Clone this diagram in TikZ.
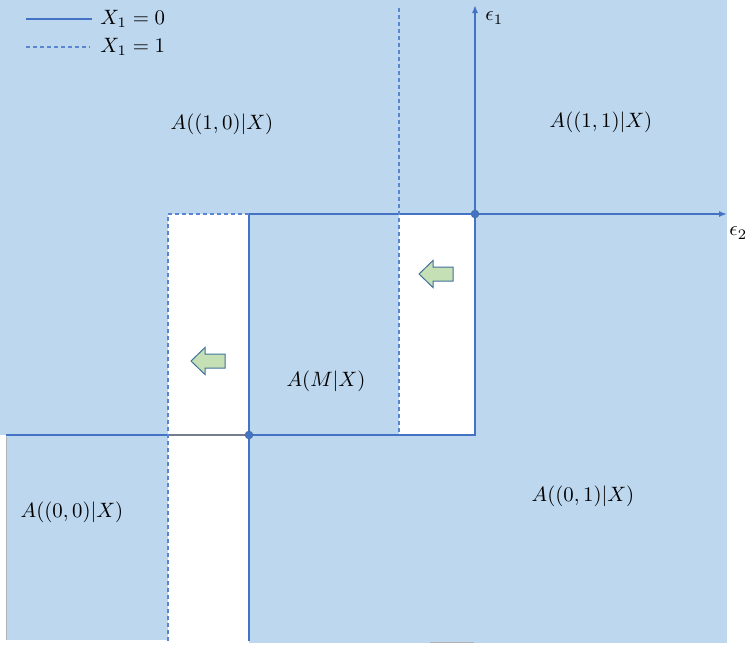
\documentclass[tikz,border=0pt]{standalone}
\usetikzlibrary{arrows.meta}
\definecolor{regionblue}{HTML}{BDD7EE}
\definecolor{lineblue}{HTML}{4472C4}
\definecolor{dashblue}{HTML}{5B86CF}
\definecolor{arrowgreen}{HTML}{C5E0B4}
\definecolor{arrowedge}{HTML}{41719C}
\begin{document}
\begin{tikzpicture}[x=1pt,y=-1pt,
  region/.style={fill=regionblue},
  solidline/.style={draw=lineblue,line width=1.8pt},
  dashline/.style={draw=dashblue,line width=1.3pt,dash pattern=on 4pt off 3pt},
  axis/.style={draw=lineblue,line width=1.5pt,-{Latex[length=8pt,width=6pt]}},
  lbl/.style={scale=2.08,inner sep=0pt},
  dotmark/.style={circle,fill=lineblue,draw=arrowedge,inner sep=0pt,minimum size=8pt},
  greenarrow/.pic={\draw[fill=arrowgreen,draw=arrowedge,line width=1pt,line join=miter]
     (-17,0) -- (-3,-13.5) -- (-3,-7) -- (17,-7) -- (17,7) -- (-3,7) -- (-3,13.5) -- cycle;}]
\useasboundingbox (0,0) rectangle (751,649);
% regions
\fill[region] (0,0) rectangle (727,435);
\fill[region] (6,435) rectangle (168,640);
\fill[region] (249,435) rectangle (727,643);
\fill[white] (168,214) rectangle (249,436);
\fill[white] (399,214) rectangle (475,436);
\draw[gray!60,line width=0.8pt] (6,437) -- (6,640);
\draw[gray!60,line width=0.8pt] (430,642.5) -- (474,642.5);
% coordinates
\coordinate (O) at (475,214);
\coordinate (M) at (249,435);
\coordinate (e1end) at (475,5);
\coordinate (e2end) at (727,214);
\coordinate (tl) at (249,214);
\coordinate (lb) at (249,641);
\coordinate (br) at (475,435);
\coordinate (bl) at (6,435);
\coordinate (dl) at (168,435);
\coordinate (dtl) at (168,214);
\coordinate (dbl) at (168,641);
\coordinate (dt) at (399,8);
\coordinate (db) at (399,435);
% solid boundaries (X1 = 0)
\draw[solidline] (tl) -- (O);
\draw[solidline] (O) -- (br) -- (M);
\draw[draw=gray!80!lineblue,line width=1.3pt] (M) -- (dl);
\draw[solidline] (dl) -- (bl);
\draw[solidline] (tl) -- (lb);
% dashed boundaries (X1 = 1)
\draw[dashline] (tl) -- (dtl) -- (dbl);
\draw[dashline] (dt) -- (db);
% axes
\draw[axis] (O) -- (e1end);
\draw[axis] (O) -- (e2end);
\node[dotmark] (odot) at (O) {};
\node[dotmark] (mdot) at (M) {};
\node[lbl,anchor=west] (e1) at (485,18) {$\epsilon_1$};
\node[lbl,anchor=west] (e2) at (729,233) {$\epsilon_2$};
% legend
\coordinate (l1a) at (26,19);
\coordinate (l1b) at (92,19);
\coordinate (l2a) at (26,47);
\coordinate (l2b) at (90,47);
\draw[solidline,line width=1.5pt] (l1a) -- (l1b);
\draw[dashline,line width=1.2pt] (l2a) -- (l2b);
\node[lbl,anchor=west] (leg1) at (100,19) {$X_1 = 0$};
\node[lbl,anchor=west] (leg2) at (100,47) {$X_1 = 1$};
% region labels
\node[lbl] (a10) at (222,124) {$A((1,0)|X)$};
\node[lbl] (a11) at (601,122) {$A((1,1)|X)$};
\node[lbl] (aM) at (326,381) {$A(M|X)$};
\node[lbl] (a00) at (72,512) {$A((0,0)|X)$};
\node[lbl] (a01) at (583,496) {$A((0,1)|X)$};
% shift arrows
\pic at (436,274) {greenarrow};
\pic at (208,361) {greenarrow};
\end{tikzpicture}
\end{document}
